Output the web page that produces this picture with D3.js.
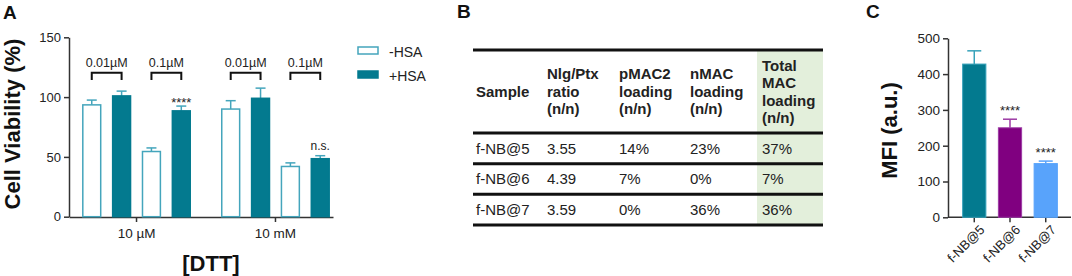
<!DOCTYPE html>
<html>
<head>
<meta charset="utf-8">
<script src="https://cdn.jsdelivr.net/npm/d3@7"></script>
<style>
  body { margin: 0; background: #fff; }
  svg { font-family: Arial, "Liberation Sans", sans-serif; }
</style>
</head>
<body>
<svg id="fig" width="1072" height="276"></svg>
<script>
// ---- panel A data ----
var dttGroups = ["10 \u00b5M", "10 mM"];
var concLabels = ["0.01\u00b5M", "0.1\u00b5M"];
var hsaSeries = ["-HSA", "+HSA"];
// per group, per concentration: [-HSA, +HSA]
var minusHSA = [93.5, 54.5, 90, 42];
var minusHSAErr = [4, 3, 7, 3];
var plusHSA = [101, 88.5, 99, 48.5];
var plusHSAErr = [4, 4, 8.5, 2.5];
var plusSig = ["", "****", "", "n.s."];
var viabTicks = [0, 50, 100, 150];

// ---- panel B data ----
var tableHeader = [["Sample"], ["Nlg/Ptx", "ratio", "(n/n)"], ["pMAC2", "loading", "(n/n)"],
                   ["nMAC", "loading", "(n/n)"], ["Total", "MAC", "loading", "(n/n)"]];
var sampleNames = ["f-NB@5", "f-NB@6", "f-NB@7"];
var nlgPtx = ["3.55", "4.39", "3.59"];
var pMAC2 = ["14%", "7%", "0%"];
var nMAC = ["23%", "0%", "36%"];
var totalMAC = ["37%", "7%", "36%"];

// ---- panel C data ----
var mfiSamples = ["f-NB@5", "f-NB@6", "f-NB@7"];
var mfiValues = [428, 250, 150];
var mfiErr = [37, 24, 7];
var mfiSig = ["", "****", "****"];
var mfiTicks = [0, 100, 200, 300, 400, 500];

var svg = d3.select("#fig");
var axisCol = "#333";
var teal = "#037a8f", tealLine = "#44a5bc";

function styleAxis(g) {
  g.selectAll("path,line").attr("stroke", axisCol).attr("stroke-width", 1.5);
  g.selectAll("text").attr("fill", "#222").attr("font-size", "13px");
}

// panel letters
svg.append("text").attr("x", 3).attr("y", 19).text("A");
svg.append("text").attr("x", 457).attr("y", 18).text("B");
svg.append("text").attr("x", 866).attr("y", 18).text("C");
svg.selectAll("text").attr("font-size", "19px").attr("font-weight", "bold").attr("fill", "#111");

// ================= Panel A =================
var yA = d3.scaleLinear().domain([0, 150]).range([216.7, 37.3]);
var x0 = d3.scaleBand().domain(dttGroups).range([69, 333])
  .paddingInner(0.216).paddingOuter(0.058).align(0.81);
var x1 = d3.scaleBand().domain(d3.range(4)).range([0, x0.bandwidth()]).paddingInner(0.35);

var bars = [];
dttGroups.forEach(function(g, gi) {
  concLabels.forEach(function(c, ci) {
    var k = gi * 2 + ci;
    bars.push({group: g, slot: ci * 2, hsa: 0, v: minusHSA[k], e: minusHSAErr[k], sig: ""});
    bars.push({group: g, slot: ci * 2 + 1, hsa: 1, v: plusHSA[k], e: plusHSAErr[k], sig: plusSig[k]});
  });
});
function bx(d) { return x0(d.group) + x1(d.slot); }

var gA = svg.append("g");
gA.append("g").attr("transform", "translate(69,0)")
  .call(d3.axisLeft(yA).tickValues(viabTicks).tickSize(5).tickSizeOuter(0))
  .call(styleAxis);
var xAxA = gA.append("g").attr("transform", "translate(0,217)")
  .call(d3.axisBottom(x0).tickSize(5).tickSizeOuter(0).tickPadding(6))
  .call(styleAxis);
xAxA.selectAll("text").attr("font-size", "13.5px");

// error bars (upward only)
var ebA = gA.selectAll(".eb").data(bars).enter().append("g").attr("stroke", tealLine).attr("stroke-width", 1.5);
ebA.append("line")
  .attr("x1", function(d) { return bx(d) + x1.bandwidth() / 2; })
  .attr("x2", function(d) { return bx(d) + x1.bandwidth() / 2; })
  .attr("y1", function(d) { return yA(d.v); })
  .attr("y2", function(d) { return yA(d.v + d.e); });
ebA.append("line")
  .attr("x1", function(d) { return bx(d) + x1.bandwidth() / 2 - 5; })
  .attr("x2", function(d) { return bx(d) + x1.bandwidth() / 2 + 5; })
  .attr("y1", function(d) { return yA(d.v + d.e); })
  .attr("y2", function(d) { return yA(d.v + d.e); });

gA.selectAll(".bar").data(bars).enter().append("rect")
  .attr("x", function(d) { return bx(d) + 0.75; })
  .attr("y", function(d) { return yA(d.v); })
  .attr("width", x1.bandwidth() - 1.5)
  .attr("height", function(d) { return yA(0) - yA(d.v); })
  .attr("fill", function(d) { return d.hsa ? teal : "#fff"; })
  .attr("stroke", function(d) { return d.hsa ? teal : tealLine; })
  .attr("stroke-width", 1.5);

// significance
gA.selectAll(".sig").data(bars.filter(function(d) { return d.sig; })).enter().append("text")
  .attr("x", function(d) { return bx(d) + x1.bandwidth() / 2; })
  .attr("y", function(d) { return yA(d.v + d.e) + (d.sig === "n.s." ? -6 : 1); })
  .attr("text-anchor", "middle")
  .attr("font-size", function(d) { return d.sig === "n.s." ? "12px" : "13px"; })
  .attr("fill", "#222")
  .text(function(d) { return d.sig; });

// concentration brackets
var pairs = [];
dttGroups.forEach(function(g) {
  concLabels.forEach(function(c, ci) { pairs.push({group: g, ci: ci, label: c}); });
});
var br = gA.selectAll(".br").data(pairs).enter().append("g");
br.append("path")
  .attr("d", function(d) {
    var a = x0(d.group) + x1(d.ci * 2) + x1.bandwidth() / 2;
    var b = x0(d.group) + x1(d.ci * 2 + 1) + x1.bandwidth() / 2;
    return "M" + a + ",80V72.7H" + b + "V80";
  })
  .attr("fill", "none").attr("stroke", "#111").attr("stroke-width", 2);
br.append("text")
  .attr("x", function(d) { return x0(d.group) + x1(d.ci * 2) + x1.step() * 0.5 + x1.bandwidth() / 2; })
  .attr("y", 66.5)
  .attr("text-anchor", "middle").attr("font-size", "12.5px").attr("fill", "#222")
  .text(function(d) { return d.label; });

// axis titles
gA.append("text").attr("transform", "translate(20,124) rotate(-90)")
  .attr("text-anchor", "middle").attr("font-size", "22px").attr("font-weight", "bold").attr("fill", "#111")
  .text("Cell Viability (%)");
gA.append("text").attr("x", 211).attr("y", 271)
  .attr("text-anchor", "middle").attr("font-size", "22px").attr("font-weight", "bold").attr("fill", "#111")
  .text("[DTT]");

// legend
var leg = gA.selectAll(".leg").data(hsaSeries).enter().append("g")
  .attr("transform", function(d, i) { return "translate(358," + (47 + i * 24) + ")"; });
leg.append("rect").attr("width", 20).attr("height", 7)
  .attr("fill", function(d, i) { return i ? teal : "#fff"; })
  .attr("stroke", function(d, i) { return i ? teal : tealLine; }).attr("stroke-width", 1.5);
leg.append("text").attr("x", 31).attr("y", 9.5).attr("font-size", "14px").attr("fill", "#222")
  .text(function(d) { return d; });

// ================= Panel B =================
var gB = svg.append("g");
var colX = [476, 547, 619, 690, 762];
var rows = sampleNames.map(function(s, i) { return [s, nlgPtx[i], pMAC2[i], nMAC[i], totalMAC[i]]; });
var rowY = d3.scaleBand().domain(d3.range(rows.length)).range([133, 225]);

gB.append("rect").attr("x", 757).attr("y", 50).attr("width", 66).attr("height", 175).attr("fill", "#e3efdb");

tableHeader.forEach(function(lines, ci) {
  var lh = 17.5, c = 91.5;
  var top = c - (lines.length - 1) * lh / 2;
  lines.forEach(function(t, li) {
    gB.append("text").attr("x", colX[ci]).attr("y", top + li * lh + 5.3)
      .attr("font-size", "15px").attr("font-weight", "bold").attr("fill", "#222").text(t);
  });
});
rows.forEach(function(r, ri) {
  gB.selectAll(null).data(r).enter().append("text")
    .attr("x", function(d, ci) { return colX[ci]; })
    .attr("y", rowY(ri) + rowY.bandwidth() / 2 + 5.3)
    .attr("font-size", "15px").attr("fill", "#222")
    .text(function(d) { return d; });
});
var hLines = [50, 133].concat(d3.range(1, rows.length + 1).map(function(i) { return rowY(i - 1) + rowY.bandwidth(); }));
gB.selectAll(".hl").data(hLines).enter().append("line")
  .attr("x1", 473).attr("x2", 823)
  .attr("y1", function(d) { return d; }).attr("y2", function(d) { return d; })
  .attr("stroke", "#111").attr("stroke-width", 3);

// ================= Panel C =================
var gC = svg.append("g");
var yC = d3.scaleLinear().domain([0, 500]).range([217.3, 38.3]);
var xC = d3.scaleBand().domain(mfiSamples).range([948, 1072]).paddingInner(0.35).paddingOuter(0.41);
var cFill = ["#037a8f", "#800080", "#58a3fb"];
var cErr = ["#36a2ba", "#9c3aa4", "#58a3fb"];

gC.append("g").attr("transform", "translate(948,0)")
  .call(d3.axisLeft(yC).tickValues(mfiTicks).tickSize(5).tickSizeOuter(0))
  .call(styleAxis)
  .selectAll("text").attr("font-size", "13.5px");
var xAxC = gC.append("g").attr("transform", "translate(0,217.3)")
  .call(d3.axisBottom(xC).tickSize(5).tickSizeOuter(0))
  .call(styleAxis);
xAxC.select(".domain").attr("d", "M948,0H1071");
xAxC.selectAll("text")
  .attr("text-anchor", "end").attr("font-size", "13px")
  .attr("transform", "translate(8,10) rotate(-45)").attr("dy", "0.35em").attr("y", 0).attr("x", 0);

var mfi = mfiSamples.map(function(s, i) { return {s: s, v: mfiValues[i], e: mfiErr[i], sig: mfiSig[i], i: i}; });
var ebC = gC.selectAll(".ebc").data(mfi).enter().append("g")
  .attr("stroke", function(d) { return cErr[d.i]; }).attr("stroke-width", 1.5);
ebC.append("line")
  .attr("x1", function(d) { return xC(d.s) + xC.bandwidth() / 2; })
  .attr("x2", function(d) { return xC(d.s) + xC.bandwidth() / 2; })
  .attr("y1", function(d) { return yC(d.v); })
  .attr("y2", function(d) { return yC(d.v + d.e); });
ebC.append("line")
  .attr("x1", function(d) { return xC(d.s) + xC.bandwidth() / 2 - 7; })
  .attr("x2", function(d) { return xC(d.s) + xC.bandwidth() / 2 + 7; })
  .attr("y1", function(d) { return yC(d.v + d.e); })
  .attr("y2", function(d) { return yC(d.v + d.e); });
gC.selectAll(".barc").data(mfi).enter().append("rect")
  .attr("x", function(d) { return xC(d.s); })
  .attr("y", function(d) { return yC(d.v); })
  .attr("width", xC.bandwidth())
  .attr("height", function(d) { return yC(0) - yC(d.v); })
  .attr("fill", function(d) { return cFill[d.i]; })
  .attr("stroke", function(d) { return cErr[d.i]; }).attr("stroke-width", 1);
gC.selectAll(".sigc").data(mfi.filter(function(d) { return d.sig; })).enter().append("text")
  .attr("x", function(d) { return xC(d.s) + xC.bandwidth() / 2; })
  .attr("y", function(d) { return yC(d.v + d.e) - 4; })
  .attr("text-anchor", "middle").attr("font-size", "13px").attr("fill", "#222")
  .text(function(d) { return d.sig; });

gC.append("text").attr("transform", "translate(897,130.5) rotate(-90)")
  .attr("text-anchor", "middle").attr("font-size", "22px").attr("font-weight", "bold").attr("fill", "#111")
  .text("MFI (a.u.)");
</script>
</body>
</html>
